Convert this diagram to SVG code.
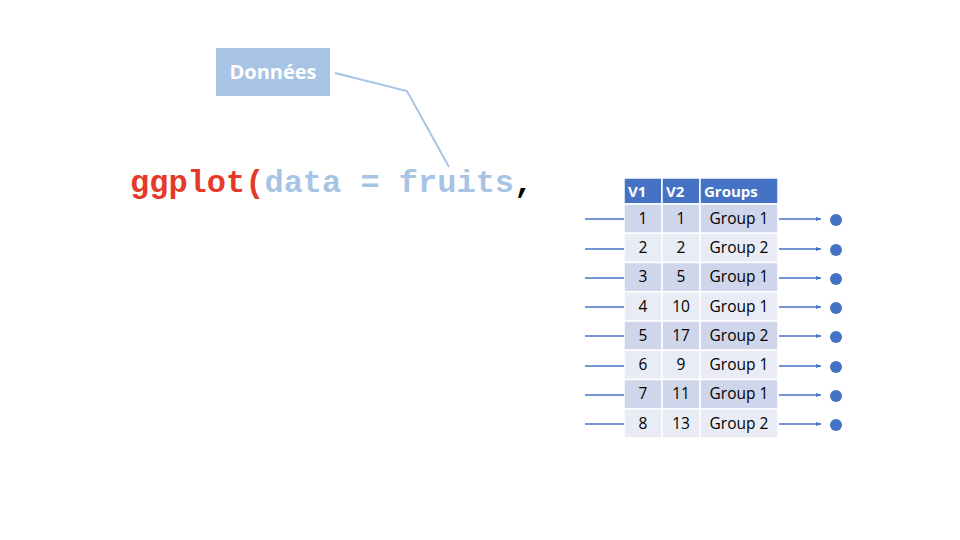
<svg xmlns="http://www.w3.org/2000/svg" width="960" height="540" viewBox="0 0 960 540">
<style>
.code{font-family:"Liberation Mono","Courier New",monospace;font-weight:bold;font-size:32px}
.cell{font-family:"Open Sans","Liberation Sans",sans-serif;font-size:15.5px;fill:#000;text-anchor:middle}
.hdr{font-family:"Open Sans","Liberation Sans",sans-serif;font-size:15px;font-weight:bold;fill:#fff}
.odd{fill:#CFD5EA;stroke:#fff;stroke-width:1.5}
.even{fill:#E9EBF5;stroke:#fff;stroke-width:1.5}
.head{fill:#4472C4;stroke:#fff;stroke-width:1.5}
.conn{stroke:#4472C4;stroke-width:1.3;fill:none}
.dot{fill:#4472C4}
</style>
<defs>
<marker id="ah" viewBox="0 0 10 10" refX="10" refY="5" markerWidth="5" markerHeight="5" orient="auto" markerUnits="userSpaceOnUse">
<path d="M0,1 L10,5 L0,9 z" fill="#4472C4"/>
</marker>
</defs>
<rect width="960" height="540" fill="#fff"/>
<g id="donnees">
<rect x="216" y="48" width="114" height="48" fill="#A7C4E5"/>
<text x="273" y="79" text-anchor="middle" font-family="Open Sans, Liberation Sans, sans-serif" font-weight="bold" font-size="20" fill="#fff">Données</text>
</g>
<g id="code">
<text x="130" y="192" class="code"><tspan fill="#E5392B">ggplot(</tspan><tspan fill="#A7C4E5">data = fruits</tspan><tspan fill="#000">,</tspan></text>
</g>
<g id="callout">
<polyline points="335,73 407,91 449,167" fill="none" stroke="#A7C4E5" stroke-width="2"/>
</g>
<g id="table">
<rect class="head" x="624" y="178" width="38" height="26"/>
<rect class="head" x="662" y="178" width="38" height="26"/>
<rect class="head" x="700" y="178" width="78" height="26"/>
<text class="hdr" x="628" y="197">V1</text>
<text class="hdr" x="666" y="197">V2</text>
<text class="hdr" x="704" y="197">Groups</text>
<g>
<rect class="odd" x="624" y="204" width="38" height="29.25"/><rect class="odd" x="662" y="204" width="38" height="29.25"/><rect class="odd" x="700" y="204" width="78" height="29.25"/>
<rect class="even" x="624" y="233.25" width="38" height="29.25"/><rect class="even" x="662" y="233.25" width="38" height="29.25"/><rect class="even" x="700" y="233.25" width="78" height="29.25"/>
<rect class="odd" x="624" y="262.5" width="38" height="29.25"/><rect class="odd" x="662" y="262.5" width="38" height="29.25"/><rect class="odd" x="700" y="262.5" width="78" height="29.25"/>
<rect class="even" x="624" y="291.75" width="38" height="29.25"/><rect class="even" x="662" y="291.75" width="38" height="29.25"/><rect class="even" x="700" y="291.75" width="78" height="29.25"/>
<rect class="odd" x="624" y="321" width="38" height="29.25"/><rect class="odd" x="662" y="321" width="38" height="29.25"/><rect class="odd" x="700" y="321" width="78" height="29.25"/>
<rect class="even" x="624" y="350.25" width="38" height="29.25"/><rect class="even" x="662" y="350.25" width="38" height="29.25"/><rect class="even" x="700" y="350.25" width="78" height="29.25"/>
<rect class="odd" x="624" y="379.5" width="38" height="29.25"/><rect class="odd" x="662" y="379.5" width="38" height="29.25"/><rect class="odd" x="700" y="379.5" width="78" height="29.25"/>
<rect class="even" x="624" y="408.75" width="38" height="29.25"/><rect class="even" x="662" y="408.75" width="38" height="29.25"/><rect class="even" x="700" y="408.75" width="78" height="29.25"/>
</g>
<g>
<text class="cell" x="643" y="224">1</text><text class="cell" x="681" y="224">1</text><text class="cell" x="739" y="224">Group 1</text>
<text class="cell" x="643" y="253">2</text><text class="cell" x="681" y="253">2</text><text class="cell" x="739" y="253">Group 2</text>
<text class="cell" x="643" y="282">3</text><text class="cell" x="681" y="282">5</text><text class="cell" x="739" y="282">Group 1</text>
<text class="cell" x="643" y="312">4</text><text class="cell" x="681" y="312">10</text><text class="cell" x="739" y="312">Group 1</text>
<text class="cell" x="643" y="341">5</text><text class="cell" x="681" y="341">17</text><text class="cell" x="739" y="341">Group 2</text>
<text class="cell" x="643" y="370">6</text><text class="cell" x="681" y="370">9</text><text class="cell" x="739" y="370">Group 1</text>
<text class="cell" x="643" y="399">7</text><text class="cell" x="681" y="399">11</text><text class="cell" x="739" y="399">Group 1</text>
<text class="cell" x="643" y="429">8</text><text class="cell" x="681" y="429">13</text><text class="cell" x="739" y="429">Group 2</text>
</g>
</g>
<g id="connectors">
<line class="conn" x1="585" y1="219" x2="624" y2="219"/>
<line class="conn" x1="585" y1="249" x2="624" y2="249"/>
<line class="conn" x1="585" y1="278" x2="624" y2="278"/>
<line class="conn" x1="585" y1="307" x2="624" y2="307"/>
<line class="conn" x1="585" y1="336" x2="624" y2="336"/>
<line class="conn" x1="585" y1="366" x2="624" y2="366"/>
<line class="conn" x1="585" y1="395" x2="624" y2="395"/>
<line class="conn" x1="585" y1="424" x2="624" y2="424"/>
<line class="conn" x1="779" y1="219" x2="821" y2="219" marker-end="url(#ah)"/>
<line class="conn" x1="779" y1="249" x2="821" y2="249" marker-end="url(#ah)"/>
<line class="conn" x1="779" y1="278" x2="821" y2="278" marker-end="url(#ah)"/>
<line class="conn" x1="779" y1="307" x2="821" y2="307" marker-end="url(#ah)"/>
<line class="conn" x1="779" y1="336" x2="821" y2="336" marker-end="url(#ah)"/>
<line class="conn" x1="779" y1="366" x2="821" y2="366" marker-end="url(#ah)"/>
<line class="conn" x1="779" y1="395" x2="821" y2="395" marker-end="url(#ah)"/>
<line class="conn" x1="779" y1="424" x2="821" y2="424" marker-end="url(#ah)"/>
</g>
<g id="dots">
<circle class="dot" cx="836" cy="220" r="6"/>
<circle class="dot" cx="836" cy="250" r="6"/>
<circle class="dot" cx="836" cy="279" r="6"/>
<circle class="dot" cx="836" cy="308" r="6"/>
<circle class="dot" cx="836" cy="337" r="6"/>
<circle class="dot" cx="836" cy="367" r="6"/>
<circle class="dot" cx="836" cy="396" r="6"/>
<circle class="dot" cx="836" cy="425" r="6"/>
</g>
</svg>
